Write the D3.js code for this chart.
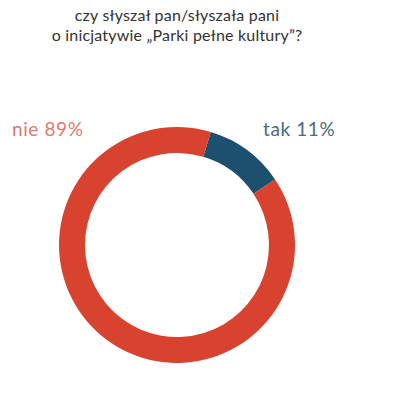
<!DOCTYPE html>
<html>
<head>
<meta charset="utf-8">
<script src="https://d3js.org/d3.v7.min.js"></script>
<style>
  body { margin: 0; background: #fff; }
  svg text { font-family: Lato, "Open Sans", sans-serif; }
</style>
</head>
<body>
<svg id="chart" width="395" height="406"></svg>
<script>
// data
var titleLines = ["czy słyszał pan/słyszała pani", "o inicjatywie „Parki pełne kultury”?"];
var answers = ["tak", "nie"];
var shares = [11, 89];
var colors = ["#1d4f6e", "#d8432f"];
var labelColors = ["#4a6b7b", "#e07a70"];

var svg = d3.select("#chart");
var cx = 177, cy = 245;
var outerR = 118, innerR = 92;
var offset = 0.29; // rotation of first slice

// title
svg.selectAll(".title")
  .data(titleLines)
  .enter().append("text")
  .attr("class", "title")
  .attr("x", cx)
  .attr("y", function(d, i) { return 21 + i * 20; })
  .attr("text-anchor", "middle")
  .attr("font-size", 16)
  .attr("letter-spacing", 0.2)
  .attr("fill", "#333")
  .text(function(d) { return d; });

var pie = d3.pie().sort(null)
  .startAngle(offset)
  .endAngle(offset + 2 * Math.PI);

var arc = d3.arc().innerRadius(innerR).outerRadius(outerR);

var g = svg.append("g").attr("transform", "translate(" + cx + "," + cy + ")");

g.selectAll("path")
  .data(pie(shares))
  .enter().append("path")
  .attr("d", arc)
  .attr("fill", function(d, i) { return colors[i]; });

// labels
var labelPos = [{ x: 263 }, { x: 12 }];
svg.selectAll(".lbl")
  .data(answers)
  .enter().append("text")
  .attr("class", "lbl")
  .attr("x", function(d, i) { return labelPos[i].x; })
  .attr("y", 136)
  .attr("font-size", 19)
  .attr("letter-spacing", 0.6)
  .attr("fill", function(d, i) { return labelColors[i]; })
  .text(function(d, i) { return d + " " + shares[i] + "%"; });
</script>
</body>
</html>
